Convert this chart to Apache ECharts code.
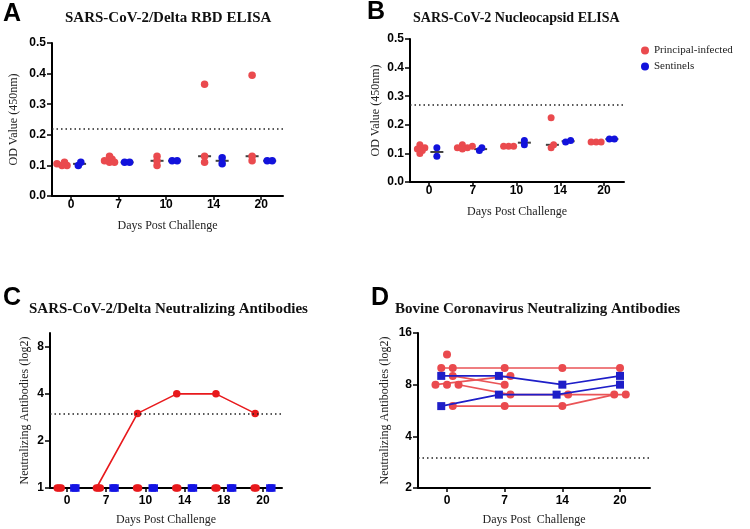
<!DOCTYPE html>
<html><head><meta charset="utf-8">
<script src="https://cdn.jsdelivr.net/npm/echarts@6/dist/echarts.min.js"></script>
<style>html,body{margin:0;padding:0;background:#fff}#c{width:750px;height:529px}</style>
</head><body><div id="c"></div>
<script>
// ---------- data ----------
const elisaDays = ['0', '7', '10', '14', '20'];
const odTicks = [0, 0.1, 0.2, 0.3, 0.4, 0.5];
// Panel A: SARS-CoV-2/Delta RBD ELISA (OD 450nm), one list per day
const rbdPrincipal = [
  [0.10, 0.105, 0.10, 0.11],
  [0.11, 0.115, 0.13, 0.12, 0.11],
  [0.13, 0.10, 0.115],
  [0.365, 0.13, 0.11],
  [0.395, 0.13, 0.115]
];
const rbdSentinel = [[0.10, 0.11], [0.11, 0.11], [0.115, 0.115], [0.125, 0.105], [0.115, 0.115]];
const rbdCutoff = 0.22;
// Panel B: SARS-CoV-2 Nucleocapsid ELISA
const ncPrincipal = [
  [0.13, 0.12, 0.11, 0.10, 0.115],
  [0.125, 0.12, 0.13, 0.12, 0.115],
  [0.125, 0.125, 0.125],
  [0.225, 0.12, 0.13],
  [0.14, 0.14, 0.14]
];
const ncSentinel = [[0.12, 0.09], [0.11, 0.12], [0.13, 0.145], [0.14, 0.145], [0.15, 0.15]];
const ncCutoff = 0.27;
// Panel C: SARS-CoV-2/Delta neutralizing antibodies, one list per animal
const nabDays = ['0', '7', '10', '14', '18', '20'];
const nabTicks = [1, 2, 4, 8];
const nabPrincipal = [[1, 1, 3, 4, 4, 3], [1, 1, 1, 1, 1, 1], [1, 1, 1, 1, 1, 1]];
const nabSentinel = [[1, 1, 1, 1, 1, 1], [1, 1, 1, 1, 1, 1]];
const nabCutoff = 3;
// Panel D: Bovine coronavirus neutralizing antibodies, one list per animal
const bcvDays = ['0', '7', '14', '20'];
const bcvTicks = [2, 4, 8, 16];
const bcvPrincipal = [
  [10, 10, 10, 10],
  [10, null, null, null],
  [12, null, null, null],
  [8, 9, null, null],
  [8, null, null, null],
  [6, 6, 6, 7],
  [8, 7, 7, 7],
  [9, 8, null, null]
];
const bcvSentinel = [[9, 9, 8, 9], [6, 7, 7, 8]];
const bcvCutoff = 3;

// ---------- style ----------
const RED = '#ea4a4e', BLUE = '#1212dc', CRED = '#e8191c', CBLUE = '#1414e4', DRED = '#ea5457', DBLUE = '#1e1ec8';
const SERIF = 'Liberation Serif', SANS = 'Liberation Sans';

function swarm(vals, pxX, pxY, thr, step) {
  const order = vals.map((v, i) => i).sort((a, b) => vals[a] - vals[b]);
  const placed = []; const dx = new Array(vals.length).fill(0);
  for (const i of order) {
    const y = vals[i] * pxY;
    for (let k = 0; k < 60; k++) {
      const x = (k % 2 === 1 ? 1 : -1) * Math.ceil(k / 2) * step;
      if (placed.every(p => Math.hypot(p[0] - x, p[1] - y) >= thr)) { dx[i] = x; placed.push([x, y]); break; }
    }
  }
  const mid = (Math.min(...dx) + Math.max(...dx)) / 2;
  return dx.map(x => (x - mid) / pxX);
}
function median(a) { const s = [...a].sort((x, y) => x - y); const n = s.length; return n % 2 ? s[(n - 1) / 2] : (s[n / 2 - 1] + s[n / 2]) / 2; }
function elisaPoints(groups, off, pxX, pxY) {
  const pts = [];
  groups.forEach((vals, i) => { const o = swarm(vals, pxX, pxY, 3.6, 2.5); vals.forEach((v, j) => pts.push([i + off + o[j], v])); });
  return pts;
}
function medians(groups, off) { return groups.map((vals, i) => [i + off, median(vals)]); }
// dodge animals sharing the same value on the same day
function dodge(list, step) {
  const res = list.map(a => a.vals.map(() => 0));
  const n = list[0].vals.length;
  for (let d = 0; d < n; d++) {
    const g = {};
    list.forEach((a, ai) => { const v = a.vals[d]; if (v == null) return; const k = a.key + '|' + v; (g[k] = g[k] || []).push(ai); });
    Object.values(g).forEach(gr => gr.forEach((ai, k) => { res[ai][d] = list[ai].base + (k - (gr.length - 1) / 2) * step; }));
  }
  return res;
}
const dotted = { type: [1.5, 3], color: '#222', width: 1.5 };
function cutLine(v) { return { silent: true, symbol: ['none', 'none'], label: { show: false }, lineStyle: dotted, data: [{ yAxis: v }] }; }

function xAx(grid, labels, min, max, margin, gap, name) {
  const idx = labels.map((_, i) => i);
  return {
    type: 'value', gridIndex: grid, min, max, z: 2,
    axisLine: { show: true, onZero: false, lineStyle: { color: '#000', width: 2 } },
    axisTick: { show: true, length: 4, lineStyle: { color: '#000', width: 1.5 }, customValues: idx },
    axisLabel: { customValues: idx, formatter: v => labels[Math.round(v)], color: '#000', fontFamily: SANS, fontWeight: 'bold', fontSize: 12, margin },
    splitLine: { show: false },
    name: name || 'Days Post Challenge', nameLocation: 'middle', nameGap: gap,
    nameTextStyle: { fontFamily: SERIF, fontSize: 12, color: '#222' }
  };
}
function yAx(grid, min, max, ticks, fmt, gap, name) {
  return {
    type: 'value', gridIndex: grid, min, max, z: 2,
    axisLine: { show: true, onZero: false, lineStyle: { color: '#000', width: 2 } },
    axisTick: { show: true, length: 5, lineStyle: { color: '#000', width: 1.5 }, customValues: ticks },
    axisLabel: { customValues: ticks, formatter: fmt, color: '#000', fontFamily: SANS, fontWeight: 'bold', fontSize: 12, margin: 6 },
    splitLine: { show: false },
    name, nameLocation: 'middle', nameGap: gap,
    nameTextStyle: { fontFamily: SERIF, fontSize: 12, color: '#222' }
  };
}

const series = [];
// Panel A
series.push({ type: 'scatter', name: 'A-med', xAxisIndex: 0, yAxisIndex: 0, symbol: 'rect', symbolSize: [13, 2], itemStyle: { color: '#111' }, z: 2, silent: true,
  data: medians(rbdPrincipal, -0.19).concat(medians(rbdSentinel, 0.18)) });
series.push({ type: 'scatter', name: 'Principal-infected', xAxisIndex: 0, yAxisIndex: 0, symbolSize: 7.5, itemStyle: { color: RED, opacity: 1 }, z: 3,
  data: elisaPoints(rbdPrincipal, -0.19, 47.5, 306), markLine: cutLine(rbdCutoff) });
series.push({ type: 'scatter', name: 'Sentinels', xAxisIndex: 0, yAxisIndex: 0, symbolSize: 7.5, itemStyle: { color: BLUE, opacity: 1 }, z: 3,
  data: elisaPoints(rbdSentinel, 0.18, 47.5, 306) });
// Panel B
series.push({ type: 'scatter', name: 'B-med', xAxisIndex: 1, yAxisIndex: 1, symbol: 'rect', symbolSize: [13, 2], itemStyle: { color: '#111' }, z: 2, silent: true,
  data: medians(ncPrincipal, -0.18).concat(medians(ncSentinel, 0.18)) });
series.push({ type: 'scatter', name: 'B-principal', xAxisIndex: 1, yAxisIndex: 1, symbolSize: 7, itemStyle: { color: RED, opacity: 1 }, z: 3,
  data: elisaPoints(ncPrincipal, -0.18, 43.75, 286), markLine: cutLine(ncCutoff) });
series.push({ type: 'scatter', name: 'B-sentinel', xAxisIndex: 1, yAxisIndex: 1, symbolSize: 7, itemStyle: { color: BLUE, opacity: 1 }, z: 3,
  data: elisaPoints(ncSentinel, 0.18, 43.75, 286) });
// Panel C
const cList = nabPrincipal.map(v => ({ vals: v, key: 'p', base: -0.2 })).concat(nabSentinel.map(v => ({ vals: v, key: 's', base: 0.2 })));
const cOff = dodge(cList, 0.05);
const cRedPts = [], cBluePts = [];
cList.forEach((a, ai) => {
  const pts = a.vals.map((v, d) => [d + cOff[ai][d], Math.log2(v)]);
  const isP = a.key === 'p';
  series.push({ type: 'line', name: 'C-line' + ai, xAxisIndex: 2, yAxisIndex: 2, data: pts, showSymbol: false, silent: true, z: 1,
    lineStyle: { color: isP ? CRED : CBLUE, width: 1.6 } });
  (isP ? cRedPts : cBluePts).push(...pts);
});
series.push({ type: 'scatter', name: 'C-principal', xAxisIndex: 2, yAxisIndex: 2, data: cRedPts, symbolSize: 7.5, itemStyle: { color: CRED, opacity: 1 }, z: 3,
  markLine: cutLine(Math.log2(nabCutoff)) });
series.push({ type: 'scatter', name: 'C-sentinel', xAxisIndex: 2, yAxisIndex: 2, data: cBluePts, symbol: 'rect', symbolSize: 7.5, itemStyle: { color: CBLUE, opacity: 1 }, z: 3 });
// Panel D
const dList = bcvSentinel.map(v => ({ vals: v, key: '', base: 0, s: true })).concat(bcvPrincipal.map(v => ({ vals: v, key: '', base: 0, s: false })));
const dOff = dodge(dList, 0.2);
dList.forEach((a, ai) => {
  const pts = [];
  a.vals.forEach((v, d) => { if (v != null) pts.push([d + dOff[ai][d], Math.log2(v)]); });
  series.push({ type: 'line', name: 'D-' + ai, xAxisIndex: 3, yAxisIndex: 3, data: pts, silent: true,
    symbol: a.s ? 'rect' : 'circle', symbolSize: a.s ? 8 : 8, showSymbol: true,
    itemStyle: { color: a.s ? DBLUE : RED }, lineStyle: { color: a.s ? DBLUE : DRED, width: 1.6 }, z: a.s ? 4 : 3,
    markLine: ai === 0 ? cutLine(Math.log2(bcvCutoff)) : undefined });
});

const log2Fmt = v => String(Math.round(Math.pow(2, v)));
const option = {
  animation: false,
  backgroundColor: '#fff',
  grid: [
    { left: 52, top: 43, width: 231, height: 153, outerBoundsMode: 'none' },
    { left: 410, top: 39, width: 214, height: 143, outerBoundsMode: 'none' },
    { left: 50, top: 333, width: 232, height: 155, outerBoundsMode: 'none' },
    { left: 418, top: 333, width: 232, height: 155, outerBoundsMode: 'none' }
  ],
  xAxis: [
    xAx(0, elisaDays, -0.4, 4.46, 3, 24),
    xAx(1, elisaDays, -0.434, 4.457, 3, 24),
    xAx(2, nabDays, -0.434, 5.485, 7, 26),
    xAx(3, bcvDays, -0.503, 3.52, 7, 26, 'Days Post  Challenge')
  ],
  yAxis: [
    yAx(0, 0, 0.5, odTicks, v => v.toFixed(1), 32, 'OD Value (450nm)'),
    yAx(1, 0, 0.5, odTicks, v => v.toFixed(1), 28, 'OD Value (450nm)'),
    yAx(2, 0, Math.log2(9.8), nabTicks.map(Math.log2), log2Fmt, 19, 'Neutralizing Antibodies (log2)'),
    yAx(3, 1, 4, bcvTicks.map(Math.log2), log2Fmt, 27, 'Neutralizing Antibodies (log2)')
  ],
  legend: {
    orient: 'vertical', left: 641, top: 45, itemWidth: 8, itemHeight: 8, itemGap: 5, padding: 0, selectedMode: false,
    textStyle: { fontFamily: SERIF, fontSize: 11, color: '#222' },
    data: [{ name: 'Principal-infected', icon: 'circle' }, { name: 'Sentinels', icon: 'circle' }]
  },
  graphic: [
    { type: 'text', x: 3, y: 14, style: { text: 'A', font: 'bold 25px "Liberation Sans"', fill: '#000', textVerticalAlign: 'middle' } },
    { type: 'text', x: 367, y: 12, style: { text: 'B', font: 'bold 25px "Liberation Sans"', fill: '#000', textVerticalAlign: 'middle' } },
    { type: 'text', x: 3, y: 298, style: { text: 'C', font: 'bold 25px "Liberation Sans"', fill: '#000', textVerticalAlign: 'middle' } },
    { type: 'text', x: 371, y: 298, style: { text: 'D', font: 'bold 25px "Liberation Sans"', fill: '#000', textVerticalAlign: 'middle' } },
    { type: 'text', x: 65, y: 18, style: { text: 'SARS-CoV-2/Delta RBD ELISA', font: 'bold 15px "Liberation Serif"', fill: '#111', textVerticalAlign: 'middle' } },
    { type: 'text', x: 413, y: 18, style: { text: 'SARS-CoV-2 Nucleocapsid ELISA', font: 'bold 14px "Liberation Serif"', fill: '#111', textVerticalAlign: 'middle' } },
    { type: 'text', x: 29, y: 309, style: { text: 'SARS-CoV-2/Delta Neutralizing Antibodies', font: 'bold 15px "Liberation Serif"', fill: '#111', textVerticalAlign: 'middle' } },
    { type: 'text', x: 395, y: 309, style: { text: 'Bovine Coronavirus Neutralizing Antibodies', font: 'bold 15px "Liberation Serif"', fill: '#111', textVerticalAlign: 'middle' } }
  ],
  series
};
const chart = echarts.init(document.getElementById('c'), null, { renderer: 'canvas' });
chart.setOption(option);
</script>
</body></html>
